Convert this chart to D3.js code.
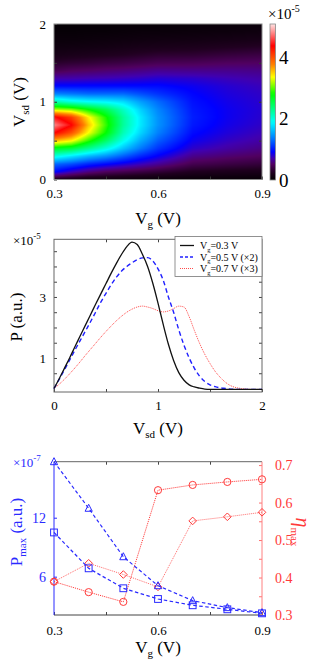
<!DOCTYPE html>
<html><head><meta charset="utf-8">
<script src="https://cdn.jsdelivr.net/npm/d3@7"></script>
<style>
html,body{margin:0;padding:0;background:#fff;}
svg{display:block;}
svg text{font-family:"Liberation Serif","Times New Roman","DejaVu Serif",serif !important;}
</style></head>
<body><svg id="c" width="316" height="667" font-family="Liberation Serif"></svg>
<script>
// ---------- DATA ----------
// Heatmap (top panel): P (x1e-5) on grid Vg columns x Vsd rows
const hmVg = [0.3, 0.35, 0.4, 0.45, 0.5, 0.55, 0.6, 0.7, 0.8, 0.9];
const hmVsd = [0,0.1,0.2,0.3,0.4,0.5,0.6,0.7,0.8,0.9,1.0,1.1,1.2,1.3,1.4,1.5,1.6,1.7,1.8,1.9,2.0];
const hmP030 = [0.2,0.95,1.3,2.0,2.7,3.6,4.4,4.8,4.45,3.2,2.2,1.4,0.95,0.7,0.45,0.3,0.18,0.12,0.08,0.05,0.03];
const hmP035 = [0.15,0.75,1.2,1.8,2.6,3.4,4.0,4.4,4.1,3.1,2.0,1.35,0.95,0.7,0.5,0.33,0.2,0.13,0.08,0.05,0.03];
const hmP040 = [0.1,0.6,1.05,1.6,2.3,2.9,3.35,3.55,3.4,2.8,1.9,1.3,0.95,0.72,0.52,0.35,0.22,0.14,0.09,0.06,0.04];
const hmP045 = [0.1,0.5,0.95,1.45,2.0,2.45,2.8,2.92,2.85,2.5,1.85,1.3,0.95,0.73,0.55,0.38,0.24,0.15,0.1,0.06,0.04];
const hmP050 = [0.08,0.45,0.85,1.25,1.65,1.95,2.15,2.25,2.25,2.1,1.75,1.3,0.95,0.75,0.57,0.4,0.26,0.17,0.11,0.07,0.05];
const hmP055 = [0.07,0.4,0.75,1.05,1.35,1.55,1.72,1.8,1.8,1.7,1.5,1.2,0.95,0.77,0.6,0.43,0.29,0.19,0.12,0.08,0.05];
const hmP060 = [0.06,0.35,0.65,0.9,1.1,1.25,1.38,1.45,1.45,1.4,1.3,1.1,0.95,0.8,0.63,0.46,0.32,0.2,0.13,0.08,0.05];
const hmP070 = [0.05,0.25,0.45,0.62,0.78,0.88,0.95,1.0,1.02,1.0,0.97,0.93,0.88,0.78,0.62,0.47,0.33,0.22,0.14,0.09,0.06];
const hmP080 = [0.05,0.22,0.4,0.55,0.68,0.76,0.82,0.86,0.88,0.88,0.86,0.83,0.8,0.73,0.62,0.5,0.37,0.25,0.16,0.1,0.07];
const hmP090 = [0.05,0.2,0.36,0.5,0.6,0.68,0.73,0.77,0.79,0.8,0.79,0.77,0.74,0.69,0.61,0.51,0.4,0.28,0.18,0.12,0.08];
const hmGrid = [hmP030,hmP035,hmP040,hmP045,hmP050,hmP055,hmP060,hmP070,hmP080,hmP090];
const cbarTicks = [0, 2, 4];

// Middle panel: P (x1e-5) vs Vsd
const vsd = [0,0.05,0.1,0.15,0.2,0.25,0.3,0.35,0.4,0.45,0.5,0.55,0.6,0.65,0.7,0.75,0.8,0.85,0.9,0.95,1.0,1.05,1.1,1.15,1.2,1.25,1.3,1.35,1.4,1.45,1.5,1.55,1.6,1.65,1.7,1.75,1.8,1.85,1.9,1.95,2.0];
const pVg03 = [0,0.32,0.66,1.0,1.36,1.71,2.06,2.41,2.76,3.1,3.44,3.78,4.1,4.4,4.65,4.8,4.72,4.4,4.0,3.45,2.8,2.1,1.45,0.92,0.52,0.27,0.12,0.05,0.01,-0.02,-0.03,-0.03,-0.03,-0.03,-0.03,-0.03,-0.03,-0.03,-0.03,-0.03,-0.03];
const pVg05 = [0,0.3,0.61,0.93,1.25,1.56,1.87,2.18,2.5,2.83,3.12,3.4,3.65,3.85,4.0,4.12,4.22,4.28,4.29,4.18,3.92,3.55,3.0,2.5,1.92,1.42,1.0,0.66,0.4,0.23,0.12,0.06,0.02,0,-0.02,-0.03,-0.03,-0.03,-0.03,-0.03,-0.03];
const pVg07 = [0,0.14,0.3,0.48,0.67,0.87,1.08,1.28,1.48,1.68,1.87,2.05,2.22,2.37,2.5,2.6,2.67,2.7,2.67,2.62,2.55,2.51,2.54,2.62,2.7,2.67,2.35,1.9,1.48,1.12,0.82,0.56,0.36,0.2,0.09,0.03,0,-0.02,-0.03,-0.03,-0.03];
const legendLabels = ["=0.3 V", "=0.5 V (\u00d72)", "=0.7 V (\u00d73)"];

// Bottom panel
const vgPts = [0.3,0.4,0.5,0.6,0.7,0.8,0.9];
const pmaxTri = [17.7,12.96,8.03,5.08,3.56,2.85,2.34];
const pmaxSq = [10.5,6.85,4.82,3.73,3.09,2.68,2.27];
const etaCirc = [0.389,0.361,0.335,0.633,0.647,0.655,0.662];
const etaDiam = [0.389,0.438,0.408,0.375,0.551,0.562,0.574];

// ---------- DRAW ----------
const FONT = "Liberation Serif";
const svg = d3.select("#c");
const frameCol = "#555";

// colormap
const cmT = [0,0.05,0.10,0.14,0.18,0.27,0.37,0.55,0.66,0.74,0.86,1.0];
const cmC = ["#000000","#200020","#500060","#4000b0","#0000ff","#0080ff","#00ffff","#00ff00","#ffff00","#ff8000","#ff0000","#ffe4e4"];
const cmax = 5.1;
const cmap = d3.scaleLinear().domain(cmT.map(t=>t*cmax)).range(cmC).interpolate(d3.interpolateRgb).clamp(true);

// ----- Top panel -----
const xTop = d3.scaleLinear().domain([0.3,0.9]).range([54,262]);
const yTop = d3.scaleLinear().domain([0,2]).range([179.5,24]);
(function(){
  const x0=54, x1=262, y0=24, y1=179.5;
  const w = Math.round(x1-x0), h = Math.round(y1-y0);
  const cv = document.createElement("canvas"); cv.width=w; cv.height=h;
  const ctx = cv.getContext("2d"); const img = ctx.createImageData(w,h);
  function interpVal(g, s){
    let i = d3.bisectRight(hmVg, g)-1; i = Math.max(0, Math.min(hmVg.length-2, i));
    let j = d3.bisectRight(hmVsd, s)-1; j = Math.max(0, Math.min(hmVsd.length-2, j));
    const tx = Math.max(0,Math.min(1,(g-hmVg[i])/(hmVg[i+1]-hmVg[i])));
    const ty = Math.max(0,Math.min(1,(s-hmVsd[j])/(hmVsd[j+1]-hmVsd[j])));
    const a = hmGrid[i][j], b = hmGrid[i+1][j], c = hmGrid[i][j+1], d = hmGrid[i+1][j+1];
    return (a*(1-tx)+b*tx)*(1-ty) + (c*(1-tx)+d*tx)*ty;
  }
  for(let py=0; py<h; py++){
    const s = yTop.invert(y0+py+0.5);
    for(let px=0; px<w; px++){
      const g = xTop.invert(x0+px+0.5);
      const col = d3.rgb(cmap(interpVal(g,s)));
      const k = (py*w+px)*4;
      img.data[k]=col.r; img.data[k+1]=col.g; img.data[k+2]=col.b; img.data[k+3]=255;
    }
  }
  ctx.putImageData(img,0,0);
  svg.append("image").attr("x",x0).attr("y",y0).attr("width",w).attr("height",h)
     .attr("preserveAspectRatio","none").attr("href",cv.toDataURL());
})();
// top axes
function styleAxis(g, col){
  g.attr("font-family",FONT);
  g.select(".domain").remove();
  g.selectAll(".tick line").attr("stroke",col||frameCol);
  g.selectAll("text").attr("fill",col||"#000").attr("font-family",FONT);
}
svg.append("g").attr("transform","translate(0,179.5)")
  .call(d3.axisBottom(xTop).tickValues([0.3,0.45,0.6,0.75,0.9]).tickSize(-3).tickPadding(9)
    .tickFormat(d=>[0.3,0.6,0.9].some(v=>Math.abs(v-d)<1e-6)?d3.format(".1f")(d):""))
  .call(g=>{styleAxis(g,"#333"); g.selectAll("text").attr("font-size",13).attr("fill","#000");});
svg.append("g").attr("transform","translate(54,0)")
  .call(d3.axisLeft(yTop).tickValues([0,0.5,1,1.5,2]).tickSize(-3).tickPadding(8)
    .tickFormat(d=>Number.isInteger(d)?d:""))
  .call(g=>{styleAxis(g,"#333"); g.selectAll("text").attr("font-size",13).attr("fill","#000");});
svg.append("g").attr("transform","translate(262,0)")
  .call(d3.axisRight(yTop).tickValues([0.5,1,1.5]).tickSize(-3).tickFormat(""))
  .call(g=>styleAxis(g,"#333"));
svg.append("rect").attr("x",54).attr("y",24).attr("width",208).attr("height",155.5)
  .attr("fill","none").attr("stroke","#888").attr("stroke-width",1);
// colorbar
const cbY = d3.scaleLinear().domain([0,cmax]).range([180,24]);
const grad = svg.append("defs").append("linearGradient").attr("id","cbg")
  .attr("x1",0).attr("y1",1).attr("x2",0).attr("y2",0);
d3.range(0,1.0001,0.02).forEach(t=>grad.append("stop").attr("offset",t).attr("stop-color",cmap(t*cmax)));
svg.append("rect").attr("x",270).attr("y",24).attr("width",5.5).attr("height",156)
  .attr("fill","url(#cbg)").attr("stroke","#888").attr("stroke-width",0.8);
svg.append("g").selectAll("text").data(cbarTicks).join("text")
  .attr("x",279).attr("y",d=>cbY(d)+6.5).attr("font-size",19).text(d=>d);
const e5a = svg.append("text").attr("x",268).attr("y",19).attr("font-size",15);
e5a.append("tspan").text("\u00d710");
e5a.append("tspan").attr("dy",-7).attr("font-size",10).text("-5");
// labels
const xl1 = svg.append("text").attr("x",158).attr("y",224).attr("text-anchor","middle").attr("font-size",17);
xl1.append("tspan").text("V"); xl1.append("tspan").attr("dy",4).attr("font-size",11).text("g");
xl1.append("tspan").attr("dy",-4).text(" (V)");
const yl1 = svg.append("text").attr("transform","translate(25,102) rotate(-90)").attr("text-anchor","middle").attr("font-size",17);
yl1.append("tspan").text("V"); yl1.append("tspan").attr("dy",4).attr("font-size",11).text("sd");
yl1.append("tspan").attr("dy",-4).text(" (V)");

// ----- Middle panel -----
const xMid = d3.scaleLinear().domain([0,2]).range([54,262]);
const yMid = d3.scaleLinear().domain([-0.115,4.89]).range([392,239.3]);
svg.append("g").attr("transform","translate(0,392)")
  .call(d3.axisBottom(xMid).tickValues([0,0.5,1,1.5,2]).tickSize(-3).tickPadding(9).tickFormat(d=>Number.isInteger(d)?d:""))
  .call(g=>{styleAxis(g,"#444"); g.selectAll("text").attr("font-size",13).attr("fill","#000");});
svg.append("g").attr("transform","translate(0,239.3)")
  .call(d3.axisTop(xMid).tickValues([0.5,1,1.5]).tickSize(-3).tickFormat(""))
  .call(g=>styleAxis(g,"#444"));
svg.append("g").attr("transform","translate(54,0)")
  .call(d3.axisLeft(yMid).tickValues([0.5,1,1.5,2,2.5,3,3.5,4,4.5]).tickSize(-3).tickPadding(8).tickFormat(d=>(d===1||d===3)?d:""))
  .call(g=>{styleAxis(g,"#444"); g.selectAll("text").attr("font-size",13).attr("fill","#000");});
svg.append("g").attr("transform","translate(262,0)")
  .call(d3.axisRight(yMid).tickValues([0.5,1,1.5,2,2.5,3,3.5,4,4.5]).tickSize(-3).tickFormat(""))
  .call(g=>styleAxis(g,"#444"));
svg.append("rect").attr("x",54).attr("y",239.3).attr("width",208).attr("height",152.7)
  .attr("fill","none").attr("stroke","#666").attr("stroke-width",1);
const lineMid = arr => d3.line().x((d,i)=>xMid(vsd[i])).y(d=>yMid(d)).curve(d3.curveMonotoneX)(arr);
svg.append("path").attr("d",lineMid(pVg07)).attr("fill","none").attr("stroke","#ff4a4a").attr("stroke-width",1).attr("stroke-dasharray","1,1");
svg.append("path").attr("d",lineMid(pVg05)).attr("fill","none").attr("stroke","#2020ff").attr("stroke-width",1.4).attr("stroke-dasharray","4.5,3");
svg.append("path").attr("d",lineMid(pVg03)).attr("fill","none").attr("stroke","#111").attr("stroke-width",1.3);
// legend
svg.append("rect").attr("x",175).attr("y",236.5).attr("width",87).attr("height",40).attr("fill","#fff").attr("stroke","#777").attr("stroke-width",0.8);
const legStyles = [{c:"#111",w:1.3,d:null},{c:"#2020ff",w:1.4,d:"3,2"},{c:"#ff4a4a",w:1,d:"1,1"}];
const legRows = [245.5,257,268.5];
legendLabels.forEach((lab,i)=>{
  const ln = svg.append("line").attr("x1",180).attr("x2",194).attr("y1",legRows[i]).attr("y2",legRows[i])
    .attr("stroke",legStyles[i].c).attr("stroke-width",legStyles[i].w);
  if(legStyles[i].d) ln.attr("stroke-dasharray",legStyles[i].d);
  const t = svg.append("text").attr("x",200).attr("y",legRows[i]+3.5).attr("font-size",10);
  t.append("tspan").text("V"); t.append("tspan").attr("dy",2.5).attr("font-size",6.5).text("g");
  t.append("tspan").attr("dy",-2.5).text(lab);
});
const e5b = svg.append("text").attr("x",13).attr("y",245).attr("font-size",13);
e5b.append("tspan").text("\u00d710"); e5b.append("tspan").attr("dy",-6).attr("font-size",9).text("-5");
svg.append("text").attr("transform","translate(22,317) rotate(-90)").attr("text-anchor","middle").attr("font-size",17).text("P (a.u.)");
const xl2 = svg.append("text").attr("x",158).attr("y",434).attr("text-anchor","middle").attr("font-size",17);
xl2.append("tspan").text("V"); xl2.append("tspan").attr("dy",4).attr("font-size",11).text("sd");
xl2.append("tspan").attr("dy",-4).text(" (V)");

// ----- Bottom panel -----
const xBot = d3.scaleLinear().domain([0.3,0.9]).range([54,262]);
const yL = d3.scaleLinear().domain([2.1,17.7]).range([615,461.7]);
const yR = d3.scaleLinear().domain([0.3,0.709]).range([615,461.7]);
const blue = "#2a2aff", red = "#ff3a3a";
svg.append("g").attr("transform","translate(0,615)")
  .call(d3.axisBottom(xBot).tickValues([0.3,0.45,0.6,0.75,0.9]).tickSize(-3).tickPadding(11)
    .tickFormat(d=>[0.3,0.6,0.9].some(v=>Math.abs(v-d)<1e-6)?d3.format(".1f")(d):""))
  .call(g=>{styleAxis(g,"#444"); g.selectAll("text").attr("font-size",13).attr("fill","#000");});
svg.append("g").attr("transform","translate(0,461.7)")
  .call(d3.axisTop(xBot).tickValues([0.45,0.6,0.75]).tickSize(-3).tickFormat(""))
  .call(g=>styleAxis(g,"#444"));
svg.append("line").attr("x1",54).attr("x2",262).attr("y1",461.7).attr("y2",461.7).attr("stroke","#666");
svg.append("line").attr("x1",54).attr("x2",262).attr("y1",615).attr("y2",615).attr("stroke","#444");
svg.append("g").attr("transform","translate(54,0)")
  .call(d3.axisLeft(yL).tickValues([6,12]).tickSize(-3).tickPadding(8))
  .call(g=>{styleAxis(g,blue); g.selectAll("text").attr("font-size",14);});
svg.append("line").attr("x1",54).attr("x2",54).attr("y1",461.7).attr("y2",615).attr("stroke",blue).attr("stroke-width",1);
svg.append("g").attr("transform","translate(262,0)")
  .call(d3.axisRight(yR).tickValues([0.3,0.35,0.4,0.45,0.5,0.55,0.6,0.65,0.7]).tickSize(-3).tickPadding(13)
    .tickFormat(d=>Math.abs(d*10-Math.round(d*10))<1e-6?d3.format(".1f")(d):""))
  .call(g=>{styleAxis(g,"#ff7070"); g.selectAll("text").attr("fill",red).attr("font-size",14);});
svg.append("line").attr("x1",262).attr("x2",262).attr("y1",461.7).attr("y2",615).attr("stroke","#ff8080").attr("stroke-width",1);

// red series
const lineR = arr => d3.line().x((d,i)=>xBot(vgPts[i])).y(d=>yR(d))(arr);
svg.append("path").attr("d",lineR(etaDiam)).attr("fill","none").attr("stroke","#ff6a6a").attr("stroke-width",1).attr("stroke-dasharray","1,1");
svg.append("path").attr("d",lineR(etaCirc)).attr("fill","none").attr("stroke","#ff3030").attr("stroke-width",1).attr("stroke-dasharray","1,1");
svg.append("g").selectAll("circle").data(etaCirc).join("circle")
  .attr("cx",(d,i)=>xBot(vgPts[i])).attr("cy",d=>yR(d)).attr("r",3.6)
  .attr("fill","none").attr("stroke",red).attr("stroke-width",1);
svg.append("g").selectAll("path").data(etaDiam).join("path")
  .attr("transform",(d,i)=>`translate(${xBot(vgPts[i])},${yR(d)})`)
  .attr("d","M0,-3.8L3.8,0L0,3.8L-3.8,0Z").attr("fill","none").attr("stroke",red).attr("stroke-width",1);
// blue series
const lineL = arr => d3.line().x((d,i)=>xBot(vgPts[i])).y(d=>yL(d))(arr);
svg.append("path").attr("d",lineL(pmaxSq)).attr("fill","none").attr("stroke",blue).attr("stroke-width",1.2).attr("stroke-dasharray","3.5,2.5");
svg.append("path").attr("d",lineL(pmaxTri)).attr("fill","none").attr("stroke",blue).attr("stroke-width",1.2).attr("stroke-dasharray","3.5,2.5");
svg.append("g").selectAll("rect").data(pmaxSq).join("rect")
  .attr("x",(d,i)=>xBot(vgPts[i])-3.4).attr("y",d=>yL(d)-3.4).attr("width",6.8).attr("height",6.8)
  .attr("fill","none").attr("stroke",blue).attr("stroke-width",1);
svg.append("g").selectAll("path").data(pmaxTri).join("path")
  .attr("transform",(d,i)=>`translate(${xBot(vgPts[i])},${yL(d)})`)
  .attr("d","M0,-4L3.6,3L-3.6,3Z").attr("fill","none").attr("stroke",blue).attr("stroke-width",1);
// labels
const e7 = svg.append("text").attr("x",13).attr("y",467).attr("font-size",13).attr("fill",blue);
e7.append("tspan").text("\u00d710"); e7.append("tspan").attr("dy",-6).attr("font-size",9).text("-7");
const ylb = svg.append("text").attr("transform","translate(22,532) rotate(-90)").attr("text-anchor","middle").attr("font-size",17).attr("fill",blue);
ylb.append("tspan").text("P"); ylb.append("tspan").attr("dy",4).attr("font-size",11).text("max");
ylb.append("tspan").attr("dy",-4).text(" (a.u.)");
const yrb = svg.append("text").attr("transform","translate(296,532) rotate(90)").attr("text-anchor","middle").attr("font-size",20).attr("fill",red);
yrb.append("tspan").attr("font-style","italic").text("\u03b7"); yrb.append("tspan").attr("dy",5).attr("font-size",11).text("max");
const xl3 = svg.append("text").attr("x",158).attr("y",653).attr("text-anchor","middle").attr("font-size",17);
xl3.append("tspan").text("V"); xl3.append("tspan").attr("dy",4).attr("font-size",11).text("g");
xl3.append("tspan").attr("dy",-4).text(" (V)");
</script></body></html>
